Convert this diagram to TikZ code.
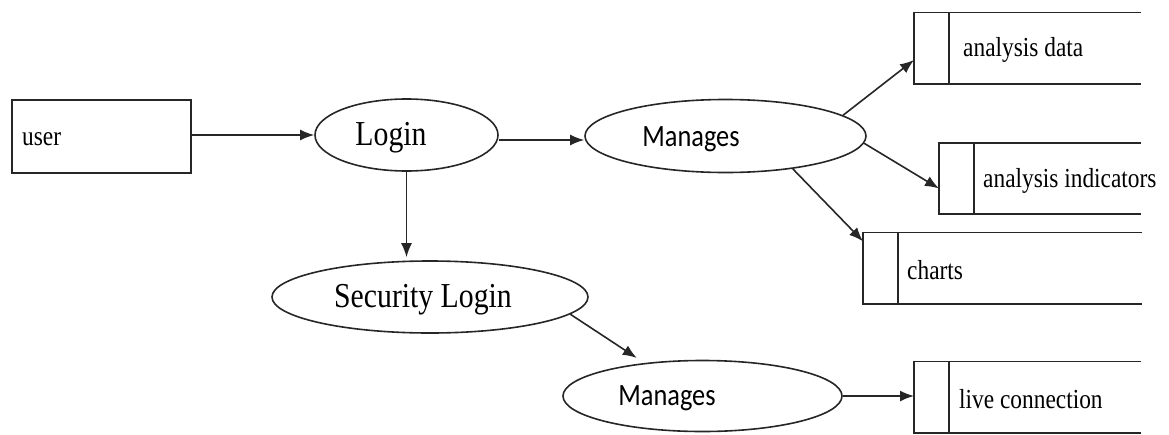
\documentclass[tikz,border=0pt]{standalone}
\usepackage{fontspec}
\setmainfont{Liberation Serif}[FakeStretch=0.85]
\newfontfamily\calfont{Carlito}[FakeStretch=0.85]
\usepackage{tikz}
\usetikzlibrary{shapes.geometric,arrows.meta}
\tikzset{
  line/.style={draw=black!85, line width=1.6pt},
  flow/.style={line, -{Latex[length=14pt,width=11pt]}},
  proc/.style={ellipse, line, inner sep=0pt},
  store/.style={rectangle, inner sep=0pt, minimum height=71pt},
  lbl/.style={inner sep=0pt, font=\fontsize{27.5}{30}\selectfont},
  biglbl/.style={inner sep=0pt, font=\fontsize{35}{38}\selectfont},
  manlbl/.style={inner sep=0pt, font=\calfont\fontsize{31}{34}\selectfont},
}
\begin{document}
\begin{tikzpicture}[x=1pt,y=-1pt]
  \useasboundingbox (0,0) rectangle (1169,434);

  % entity and processes
  \node[rectangle, line, minimum width=179pt, minimum height=73pt] (user) at (101.5,136.5) {};
  \node[lbl, anchor=west] (usertxt) at (22,139) {user};
  \node[proc, minimum width=183pt, minimum height=72pt] (login) at (406.5,135) {};
  \node[biglbl] (logintxt) at (391,138) {Login};
  \node[proc, minimum width=281pt, minimum height=73pt] (man1) at (725.5,136) {};
  \node[manlbl] (man1txt) at (691,139) {Manages};
  \node[proc, minimum width=316pt, minimum height=72pt] (seclogin) at (430,297) {};
  \node[biglbl] (seclogintxt) at (423,300) {Security Login};
  \node[proc, minimum width=279pt, minimum height=71pt] (man2) at (702.5,396) {};
  \node[manlbl] (man2txt) at (667,398) {Manages};

  % data stores, open on the right
  \foreach \nm/\x/\y/\w/\off/\t in {data/914/48/227/49/analysis data,
      ind/939/178.5/202/44/analysis indicators,
      charts/863/268/279/44/charts,
      live/914/397/227/45/live connection} {
    \node[store, minimum width=\w pt, anchor=west] (\nm) at (\x,\y) {};
    \draw[line] (\nm.north east) -- (\nm.north west) -- (\nm.south west) -- (\nm.south east);
    \draw[line] ([xshift=35pt]\nm.north west) -- ([xshift=35pt]\nm.south west);
    \node[lbl, anchor=west] (\nm txt) at ([xshift=\off pt, yshift=-2pt]\nm.west) {\t};
  }

  % flows
  \draw[flow] (user.east |- login.west) -- (login.west);
  \draw[flow] ([yshift=-5pt]login.east) -- ([yshift=-5pt]login.east -| man1.west);
  \draw[flow] (login.south) -- ([yshift=3pt]login.south |- seclogin.north);
  \draw[flow] (seclogin.-7) -- ([yshift=6pt]man2.154);
  \draw[flow] (man1.10) -- ([yshift=-12pt]data.west);
  \draw[flow] (man1.-3) -- ([yshift=-10pt]ind.west);
  \draw[flow] (man1.-26) -- ([yshift=-9pt]charts.north west);
  \draw[flow] (man2.east) -- (man2.east -| live.west);
\end{tikzpicture}
\end{document}
